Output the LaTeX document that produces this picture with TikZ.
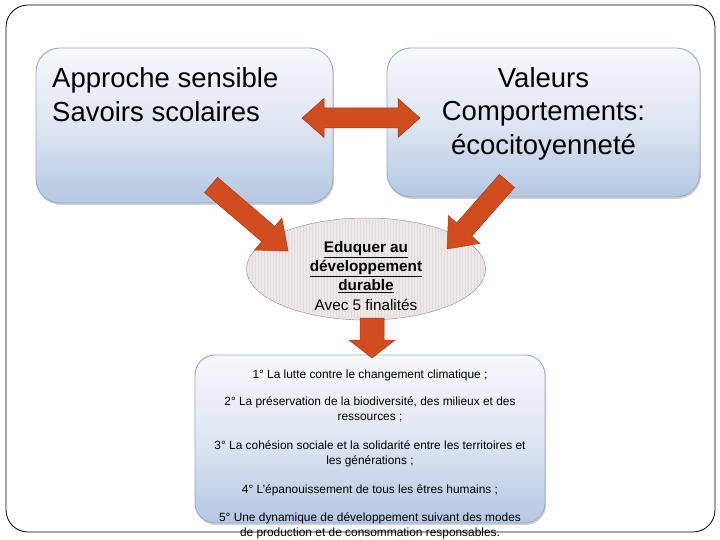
\documentclass[tikz,border=0pt]{standalone}
\usepackage{fontspec}
\setmainfont{Liberation Sans}
\usetikzlibrary{calc,shapes.geometric,patterns,shadows}
\definecolor{boxtop}{RGB}{246,248,252}
\definecolor{boxmid}{RGB}{222,230,242}
\definecolor{boxbot}{RGB}{180,199,226}
\definecolor{boxline}{RGB}{150,170,200}
\definecolor{arrowfill}{RGB}{209,76,30}
\definecolor{arrowline}{RGB}{170,58,20}
\definecolor{ellfill}{RGB}{238,233,233}
\definecolor{ellstripe}{RGB}{226,219,219}
\definecolor{ellline}{RGB}{140,140,140}
\tikzset{
  bluebox/.style={draw=boxline, line width=0.9pt, rounded corners=24pt,
    top color=boxtop, bottom color=boxbot, middle color=boxmid,
    drop shadow={shadow xshift=1pt, shadow yshift=-2pt, opacity=0.35}},
  blockarr/.style={fill=arrowfill, draw=arrowline, line width=0.5pt, line join=miter},
  frame/.style={draw=black, line width=0.8pt, rounded corners=22pt},
}
\newcommand{\blockarrow}[5]{% from, to, shaft half, head half, head length
  \coordinate (bah) at ($(#2)!#5!(#1)$);
  \draw[blockarr] ($(#1)!#3!90:(#2)$) -- ($(bah)!#3!-90:(#1)$) -- ($(bah)!#4!-90:(#1)$)
    -- (#2) -- ($(bah)!#4!90:(#1)$) -- ($(bah)!#3!90:(#1)$) -- ($(#1)!#3!-90:(#2)$) -- cycle;
}
\newcommand{\doublearrow}[5]{%
  \coordinate (dah1) at ($(#1)!#5!(#2)$);
  \coordinate (dah2) at ($(#2)!#5!(#1)$);
  \draw[blockarr] (#1) -- ($(dah1)!#4!90:(#2)$) -- ($(dah1)!#3!90:(#2)$)
    -- ($(dah2)!#3!-90:(#1)$) -- ($(dah2)!#4!-90:(#1)$) -- (#2)
    -- ($(dah2)!#4!90:(#1)$) -- ($(dah2)!#3!90:(#1)$)
    -- ($(dah1)!#3!-90:(#2)$) -- ($(dah1)!#4!-90:(#2)$) -- cycle;
}
\begin{document}
\begin{tikzpicture}[x=1pt,y=-1pt]
\useasboundingbox (0,0) rectangle (720,540);
% frame
\draw[frame] (6,5) rectangle (715,532);
% boxes
\node[bluebox, minimum width=297pt, minimum height=155pt, inner sep=0pt] (left) at (184.5,125.5) {};
\node[bluebox, minimum width=313pt, minimum height=149pt, inner sep=0pt] (right) at (543.5,122.5) {};
\node[bluebox, rounded corners=20pt, minimum width=350pt, minimum height=168pt, inner sep=0pt] (bottom) at (370,439) {};
% ellipse
\node[ellipse, fill=ellfill, draw=ellline, line width=0.5pt, minimum width=239pt, minimum height=102pt, inner sep=0pt,
  postaction={pattern=vertical lines, pattern color=ellstripe}] (ell) at (366,269) {};
% texts
\node[anchor=north west, inner sep=0pt, align=left, font=\fontsize{27.5}{34}\selectfont] (lefttext) at (52,67)
  {Approche sensible\\Savoirs scolaires};
\node[anchor=north, inner sep=0pt, align=center, font=\fontsize{27.5}{33.5}\selectfont] (righttext) at (543.5,67)
  {Valeurs\\Comportements:\\écocitoyenneté};
\node[anchor=north, inner sep=0pt, align=center, font=\fontsize{15.3}{19.3}\selectfont] (elltext) at (366,241)
  {\textbf{\underline{Eduquer au}}\\\textbf{\underline{développement}}\\\textbf{\underline{durable}}\\Avec 5 finalités};
\node[anchor=north, inner sep=0pt, align=center, font=\fontsize{11.9}{15}\selectfont] (bottomtext) at (370,370)
  {1° La lutte contre le changement climatique ;\\[12pt]
   2° La préservation de la biodiversité, des milieux et des\\ressources ;\\[14pt]
   3° La cohésion sociale et la solidarité entre les territoires et\\les générations ;\\[14pt]
   4° L'épanouissement de tous les êtres humains ;\\[13pt]
   5° Une dynamique de développement suivant des modes\\de production et de consommation responsables.};
% arrows
\coordinate (lt) at (211,185);
\coordinate (ltip) at (288,251);
\coordinate (rt) at (507,181);
\coordinate (rtip) at (447,249);
\coordinate (dt) at (372,318);
\coordinate (dtip) at (372,358);
\coordinate (ha) at (302,118);
\coordinate (hb) at (420,118);
\blockarrow{lt}{ltip}{10pt}{21pt}{26pt}
\blockarrow{rt}{rtip}{10pt}{21pt}{26pt}
\blockarrow{dt}{dtip}{12pt}{23pt}{18pt}
\doublearrow{ha}{hb}{10pt}{19.5pt}{22pt}
\end{tikzpicture}
\end{document}
